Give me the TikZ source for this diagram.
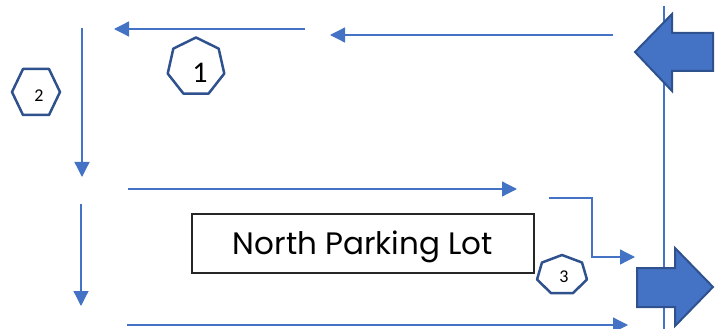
\documentclass[tikz,border=0pt]{standalone}
\usepackage{fontspec}
\setmainfont{Carlito}
\newfontfamily\gothic{Poppins}
\usetikzlibrary{arrows.meta}
\definecolor{lblue}{HTML}{4472C4}
\definecolor{dblue}{HTML}{2F528F}
\begin{document}
\begin{tikzpicture}[x=1pt,y=-1pt,
  flow/.style={draw=lblue, line width=1.3pt, -{Triangle[length=15pt,width=15pt]}},
  plainline/.style={draw=lblue, line width=1.3pt},
  bigarrow/.style={fill=lblue, draw=dblue, line width=2pt, line join=miter},
  badge/.style={draw=dblue, line width=2.5pt, fill=white, line join=round},
  lotbox/.style={draw=black!85, line width=1.3pt, minimum width=342pt, minimum height=59pt, inner sep=0pt, text height=21.7pt, text depth=0pt, font=\gothic\fontsize{31}{31}\selectfont},
  numlabel/.style={inner sep=0pt, text=black}]
\useasboundingbox (0,0) rectangle (716,329);

% coordinates for connector ends
\coordinate (a1s) at (305,29);  \coordinate (a1e) at (114,29);
\coordinate (a2s) at (613,35);  \coordinate (a2e) at (330,35);
\coordinate (vrs) at (664,6);   \coordinate (vre) at (664,329);
\coordinate (v1s) at (82,28);   \coordinate (v1e) at (82,177);
\coordinate (v2s) at (81,204);  \coordinate (v2e) at (81,306);
\coordinate (h1s) at (128,189); \coordinate (h1e) at (517,189);
\coordinate (h2s) at (127,325); \coordinate (h2e) at (628,325);
\coordinate (bs) at (549,198);  \coordinate (bm) at (592,257); \coordinate (be) at (635,257);

% vertical line behind arrows
\draw[plainline] (vrs) -- (vre);

% flow arrows
\draw[flow] (a1s) -- (a1e);
\draw[flow] (a2s) -- (a2e);
\draw[flow] (v1s) -- (v1e);
\draw[flow] (v2s) -- (v2e);
\draw[flow] (h1s) -- (h1e);
\draw[flow] (h2s) -- (h2e);
\draw[flow] (bs) -| (bm) -- (be);

% big block arrows
\draw[bigarrow] (635,52) -- (672,14) -- (672,33) -- (713,33) -- (713,71) -- (672,71) -- (672,91) -- cycle;
\draw[bigarrow] (637,268) -- (675,268) -- (675,248) -- (713,287) -- (675,326) -- (675,307) -- (637,307) -- cycle;

% badges
\draw[badge] ({196+29*cos(-90)},{67+29.5*sin(-90)})
  \foreach \k in {1,...,6} { -- ({196+29*cos(-90+\k*360/7)},{67+29.5*sin(-90+\k*360/7)}) } -- cycle;
\node[numlabel, font=\fontsize{30}{30}\selectfont] (n1) at (200,73) {1};

\draw[badge] (12,92) -- (23,69) -- (49,69) -- (60,92) -- (49,115) -- (23,115) -- cycle;
\node[numlabel, font=\fontsize{18}{18}\selectfont] (n2) at (39,96) {2};

\draw[badge] ({562+25.6*cos(-90)},{275+20*sin(-90)})
  \foreach \k in {1,...,6} { -- ({562+25.6*cos(-90+\k*360/7)},{275+20*sin(-90+\k*360/7)}) } -- cycle;
\node[numlabel, font=\fontsize{18}{18}\selectfont] (n3) at (564,277) {3};

% parking lot box
\node[lotbox] (lot) at (363,243.5) {North Parking Lot};
\end{tikzpicture}
\end{document}
